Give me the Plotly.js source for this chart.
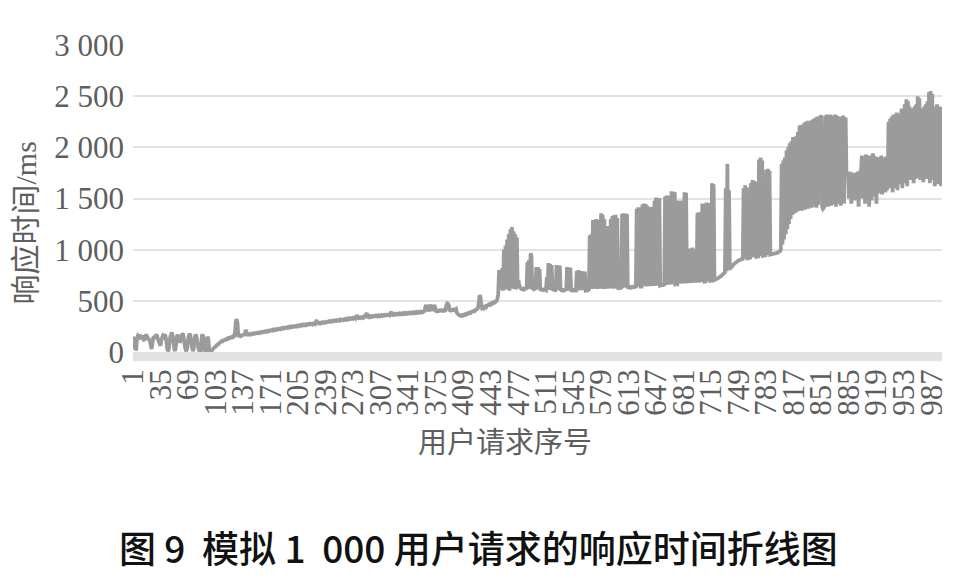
<!DOCTYPE html>
<html>
<head>
<meta charset="utf-8">
<script src="https://cdn.plot.ly/plotly-3.0.1.min.js"></script>
<style>
  html, body { margin: 0; padding: 0; background: #fff; }
  #chart { width: 964px; height: 578px; }
</style>
</head>
<body>
<div id="chart"></div>
<script>
// response time (ms) per simulated user request, 20 per row
var responseMs = [
  150,120,60,20,30,140,160,150,170,140,130,150,160,120,110,150,170,160,140,130,
  120,100,60,30,80,140,150,130,160,170,150,120,100,80,60,120,140,160,150,170,
  160,120,40,10,20,80,150,170,190,160,100,30,10,60,140,170,150,120,90,130,
  150,180,170,120,60,20,10,40,120,160,180,150,100,40,10,30,130,170,160,120,
  80,30,10,5,15,160,170,140,60,10,5,20,150,130,40,10,5,10,20,30,
  40,48,52,63,70,72,84,88,97,101,108,106,115,118,122,119,128,134,130,138,
  140,145,142,150,148,155,200,300,320,290,160,158,162,155,160,165,168,170,160,215,
  200,170,168,172,175,170,178,180,176,182,185,180,183,188,186,190,185,192,190,195,
  192,198,200,196,203,205,200,208,210,206,212,215,210,218,214,220,216,222,225,220,
  224,228,222,230,233,228,236,232,238,240,235,242,238,245,240,248,244,250,246,252,
  248,252,256,250,258,262,255,260,265,258,262,268,264,260,270,266,272,268,275,270,
  272,276,270,278,282,276,300,310,285,280,284,278,286,290,284,288,292,286,290,295,
  292,298,302,296,300,305,298,304,308,302,306,310,304,308,312,306,316,310,314,318,
  312,318,322,315,320,326,318,324,330,322,326,332,324,330,336,328,345,360,340,330,
  334,338,332,340,345,336,342,350,370,380,345,340,346,350,342,348,352,346,350,355,
  350,355,348,352,358,350,356,360,352,358,362,356,360,364,358,362,366,360,380,392,
  370,362,366,372,364,368,374,366,370,376,368,372,378,370,374,380,372,376,382,374,
  378,384,376,380,386,378,382,388,380,384,390,382,386,392,384,388,394,386,390,396,
  400,440,460,420,450,395,430,465,400,455,445,398,460,440,402,398,404,400,406,402,
  404,408,402,406,410,404,408,460,475,470,455,410,406,412,408,414,410,416,412,418,
  380,372,366,360,358,352,356,362,358,366,370,364,372,378,374,380,386,382,390,395,
  398,404,400,410,416,420,430,480,555,540,470,430,436,428,440,446,438,450,456,462,
  466,460,470,476,472,480,488,484,492,500,520,560,800,620,780,610,820,600,1000,620,
  1040,610,1100,620,1150,600,1200,630,1220,620,1180,615,1150,610,1120,640,700,650,630,620,
  615,612,618,610,614,620,612,880,620,900,615,965,940,625,618,612,616,610,830,620,
  830,615,810,612,608,614,610,606,612,608,604,730,610,870,606,860,612,850,605,610,
  608,604,606,850,610,840,606,845,610,604,602,606,600,604,608,602,830,606,820,600,
  825,604,600,602,606,600,604,602,790,605,800,602,780,606,790,604,780,606,785,604,
  608,602,606,610,1140,620,1150,615,1290,618,1280,620,1300,615,1260,622,1290,618,1355,620,
  1340,616,1300,620,1220,618,1230,622,1210,620,1300,624,1330,618,1335,622,1340,620,1310,626,
  624,628,626,630,1350,628,1355,632,1340,630,1350,634,632,628,634,630,636,632,638,634,
  636,640,1400,638,1415,642,1410,640,640,1440,642,1450,644,1445,640,1430,646,1415,642,1410,
  1400,648,1390,646,1480,650,1510,648,1500,652,1505,650,654,652,656,654,658,1520,656,1530,
  660,1525,658,1530,662,1570,660,1565,664,1560,662,666,664,1480,668,1470,666,1480,670,1460,
  672,1560,670,1555,674,1000,672,1010,676,980,674,1020,678,990,676,1000,680,1360,678,1365,
  682,1355,684,1450,686,1440,688,690,1460,692,1455,694,1450,696,698,1650,700,1640,704,708,
  712,716,720,724,730,736,742,748,756,764,772,780,1600,790,1840,800,1580,810,820,830,
  840,850,858,866,872,878,884,890,894,898,902,905,908,910,1600,912,1630,914,1610,916,
  918,920,922,1650,924,1680,926,1670,928,1660,930,932,934,1880,936,1900,938,1870,940,942,
  944,946,1780,948,1790,950,1770,952,954,956,958,960,962,964,966,968,970,975,980,985,
  1000,1840,1050,1870,1100,1900,1150,1970,1200,2000,1250,2040,1300,2060,1340,2100,1350,2090,1360,2110,
  1370,2150,1380,2210,1390,2220,1380,2200,1400,2240,1390,2250,1410,2260,1400,2250,1420,2260,1410,2270,
  1420,2280,1430,2290,1410,2300,1440,2300,2290,2300,2310,1420,1400,1410,1430,2310,1440,2320,1420,2310,
  1450,2320,1430,2310,1460,2300,1440,2320,1420,2310,1450,2300,1460,2290,1430,2300,1470,2310,1450,2280,
  2290,1760,1720,1740,1500,1760,1730,1450,1750,1700,1740,1720,1480,1750,1730,1760,1420,1740,1770,1750,
  1920,1500,1900,1870,1450,1930,1880,1500,1900,1420,1920,1870,1480,1900,1940,1520,1880,1910,1450,1890,
  1900,1550,1880,1600,1920,1540,1870,1620,1900,1560,1910,1580,1700,2250,1600,2280,1620,2300,1560,2320,
  1600,2300,1620,2340,1580,2330,1660,2320,1640,2380,1600,2350,1680,2420,1650,2470,1620,2450,1700,2400,
  1680,2380,1700,2360,1650,2400,1690,2420,1700,2500,1720,2480,1680,2380,1710,2360,1660,2400,1720,2420,
  1690,2450,1700,2540,1650,2550,1720,2520,1680,2400,1620,2380,1660,2420,1640,2400,1700,2380,1620,2400
];

// request number 1..1000
var requestNo = responseMs.map(function (v, k) { return k + 1; });

var xTickVals = [1,35,69,103,137,171,205,239,273,307,341,375,409,443,477,
                 511,545,579,613,647,681,715,749,783,817,851,885,919,953,987];
var yTickVals = [0, 500, 1000, 1500, 2000, 2500, 3000];
var yTickText = ['0', '500', '1 000', '1 500', '2 000', '2 500', '3 000'];

var numFont = 'Liberation Serif, Noto Sans CJK SC, serif';
var labelGray = '#5e5e5e';

var trace = {
  x: requestNo,
  y: responseMs,
  type: 'scatter',
  mode: 'lines',
  line: {color: '#9b9b9b', width: 3.8, simplify: false},
  hoverinfo: 'skip'
};

var layout = {
  width: 964,
  height: 578,
  margin: {l: 133, r: 22, t: 45, b: 226},
  paper_bgcolor: '#fff',
  plot_bgcolor: '#fff',
  showlegend: false,
  xaxis: {
    type: 'linear',
    range: [1, 1000],
    tickvals: xTickVals,
    ticktext: xTickVals.map(String),
    tickangle: -90,
    tickfont: {family: numFont, size: 31, color: labelGray},
    ticks: '',
    ticklabelstandoff: 10,
    showgrid: false,
    zeroline: false,
    showline: false
  },
  yaxis: {
    range: [0, 3000],
    tickvals: yTickVals,
    ticktext: yTickText,
    tickfont: {family: numFont, size: 31, color: labelGray},
    ticks: '',
    ticklabelstandoff: 8,
    showgrid: true,
    gridcolor: '#e3e3e3',
    gridwidth: 2,
    zeroline: false,
    showline: false
  },
  shapes: [{
    type: 'rect', xref: 'paper', yref: 'paper',
    x0: 0, x1: 1, y0: -0.03, y1: 0,
    fillcolor: '#e2e2e2', line: {width: 0}, layer: 'below'
  }],
  annotations: [
    {
      text: '响应时间/ms', xref: 'paper', yref: 'paper',
      x: -0.133, y: 0.42, xanchor: 'center', yanchor: 'middle',
      textangle: -90, showarrow: false,
      font: {family: numFont, size: 30, color: labelGray}
    },
    {
      text: '用户请求序号', xref: 'paper', yref: 'paper',
      x: 0.46, y: -0.287, xanchor: 'center', yanchor: 'middle',
      showarrow: false,
      font: {family: 'Noto Sans CJK SC, sans-serif', size: 29, color: labelGray}
    },
    {
      text: '图 9  模拟 1  000 用户请求的响应时间折线图', xref: 'paper', yref: 'paper',
      x: 0.4265, y: -0.635, xanchor: 'center', yanchor: 'middle',
      showarrow: false,
      font: {family: 'Noto Sans CJK SC, sans-serif', size: 37, color: '#111', weight: 500}
    }
  ]
};

Plotly.newPlot('chart', [trace], layout, {staticPlot: true, displayModeBar: false});
</script>
</body>
</html>
